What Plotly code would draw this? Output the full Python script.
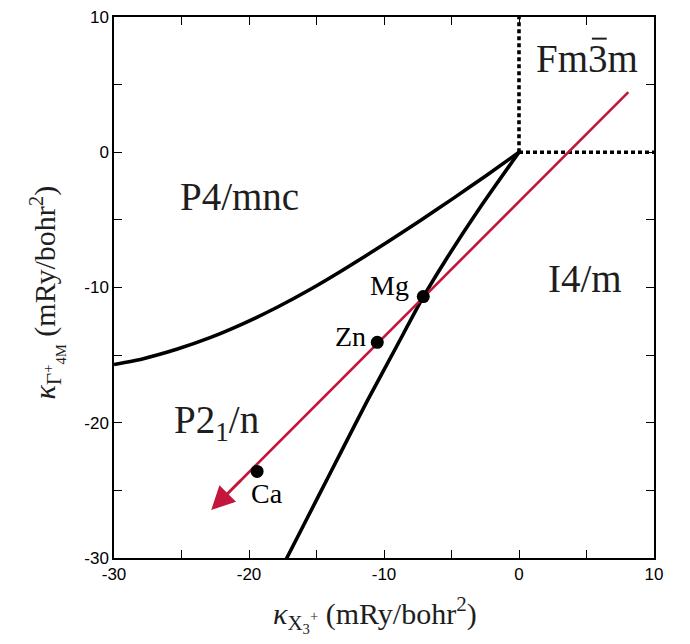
import plotly.graph_objects as go

# ---- data ----
# phase boundary P4/mnc | P2_1/n (curved, left)
b1_x = [-30.0, -27.83, -25.36, -22.89, -20.42, -17.95, -15.48, -13.01, -9.8, -7.33, -4.87, -2.39, 0.0]
b1_y = [-15.69, -15.26, -14.57, -13.71, -12.67, -11.48, -10.15, -8.69, -6.67, -5.06, -3.41, -1.70, 0.0]
# phase boundary P2_1/n | I4/m (steep)
b2_x = [0.0, -2.82, -5.45, -7.09, -9.09, -11.25, -13.15, -14.79, -17.20, -17.71]
b2_y = [0.0, -4.0, -8.0, -10.7, -14.4, -18.4, -22.1, -25.3, -30.0, -31.0]
# dotted boundaries of Fm-3m
dv_x = [0, 0]
dv_y = [0, 10]
dh_x = [0, 10]
dh_y = [0, 0]
# red path (start, arrow tail, line end, arrow tip)
red_x = [8.1, -20.5, -21.8, -22.8]
red_y = [4.45, -24.15, -25.45, -26.45]
# compounds
comp_names = ["Mg", "Zn", "Ca"]
comp_x = [-7.09, -10.5, -19.4]
comp_y = [-10.67, -14.05, -23.6]
comp_lab_x = [-9.6, -12.5, -18.7]
comp_lab_y = [-9.85, -13.6, -25.2]
# phase labels
phase_names = ["Fm3m", "P4/mnc", "I4/m", "P2<sub>1</sub>/n"]
phase_x = [5.0, -20.7, 4.9, -22.4]
phase_y = [6.9, -3.3, -9.3, -20.0]
# overbar of the "3" in Fm-3m (x range, y)
bar_x = [5.4, 6.5]
bar_y = 8.4
# ticks
tick_vals = [-30, -25, -20, -15, -10, -5, 0, 5, 10]
tick_text = ["-30", "", "-20", "", "-10", "", "0", "", "10"]

RED = "#C4163C"
SERIF = "Liberation Serif"
INK = "#1e1e1e"

fig = go.Figure()
fig.add_trace(go.Scatter(x=b1_x, y=b1_y, mode="lines", line=dict(color="black", width=3.6, shape="spline", smoothing=0.6), hoverinfo="skip"))
fig.add_trace(go.Scatter(x=b2_x, y=b2_y, mode="lines", line=dict(color="black", width=3.6, shape="spline", smoothing=0.6), hoverinfo="skip"))
fig.add_trace(go.Scatter(x=dv_x, y=dv_y, mode="lines", line=dict(color="black", width=3.6, dash="4px,3px"), hoverinfo="skip"))
fig.add_trace(go.Scatter(x=dh_x, y=dh_y, mode="lines", line=dict(color="black", width=3.6, dash="4px,3px"), hoverinfo="skip"))
fig.add_trace(go.Scatter(x=red_x[:3], y=red_y[:3], mode="lines", line=dict(color=RED, width=2.6), hoverinfo="skip"))
fig.add_trace(go.Scatter(x=comp_x, y=comp_y, mode="markers", marker=dict(color="black", size=13), hoverinfo="skip"))

fig.add_annotation(x=red_x[3], y=red_y[3], ax=red_x[1], ay=red_y[1], xref="x", yref="y",
                   axref="x", ayref="y", showarrow=True, arrowhead=2, arrowsize=1.8,
                   arrowwidth=2.6, arrowcolor=RED, text="", standoff=0, startstandoff=0)

for n, x, y in zip(comp_names, comp_lab_x, comp_lab_y):
    fig.add_annotation(x=x, y=y, text=n, showarrow=False, xanchor="center", yanchor="middle",
                       font=dict(family=SERIF, size=28, color="black"))
for n, x, y in zip(phase_names, phase_x, phase_y):
    fig.add_annotation(x=x, y=y, text=n, showarrow=False, xanchor="center", yanchor="middle",
                       font=dict(family=SERIF, size=39, color=INK))
fig.add_shape(type="line", xref="x", yref="y", x0=bar_x[0], x1=bar_x[1], y0=bar_y, y1=bar_y,
              line=dict(color=INK, width=2))

axis_common = dict(
    range=[-30, 10], tickvals=tick_vals, ticktext=tick_text, ticks="inside", ticklen=8,
    tickwidth=1.2, tickcolor="black", showline=True, linecolor="black", linewidth=1.5,
    mirror="ticks", showgrid=False, zeroline=False, automargin=False,
    tickfont=dict(family="Liberation Sans", size=17, color="black"),
)
fig.update_xaxes(**axis_common)
fig.update_yaxes(**axis_common)

fig.add_annotation(xref="paper", yref="paper", x=0.483, y=-0.104, showarrow=False,
                   xanchor="center", yanchor="middle",
                   text="<i>\u03ba</i><sub>X<sub>3</sub><sup>+</sup></sub> (mRy/bohr<sup>2</sup>)",
                   font=dict(family=SERIF, size=30, color=INK))
fig.add_annotation(xref="paper", yref="paper", x=-0.125, y=0.49, showarrow=False,
                   xanchor="center", yanchor="middle", textangle=-90,
                   text="<i>\u03ba</i><sub>\u0393<sup>+</sup><sub>4M</sub></sub> (mRy/bohr<sup>2</sup>)",
                   font=dict(family=SERIF, size=30, color=INK))

fig.update_layout(width=690, height=644, margin=dict(l=114, r=36, t=17, b=86),
                  paper_bgcolor="white", plot_bgcolor="white", showlegend=False)
fig.write_html("out.html")
